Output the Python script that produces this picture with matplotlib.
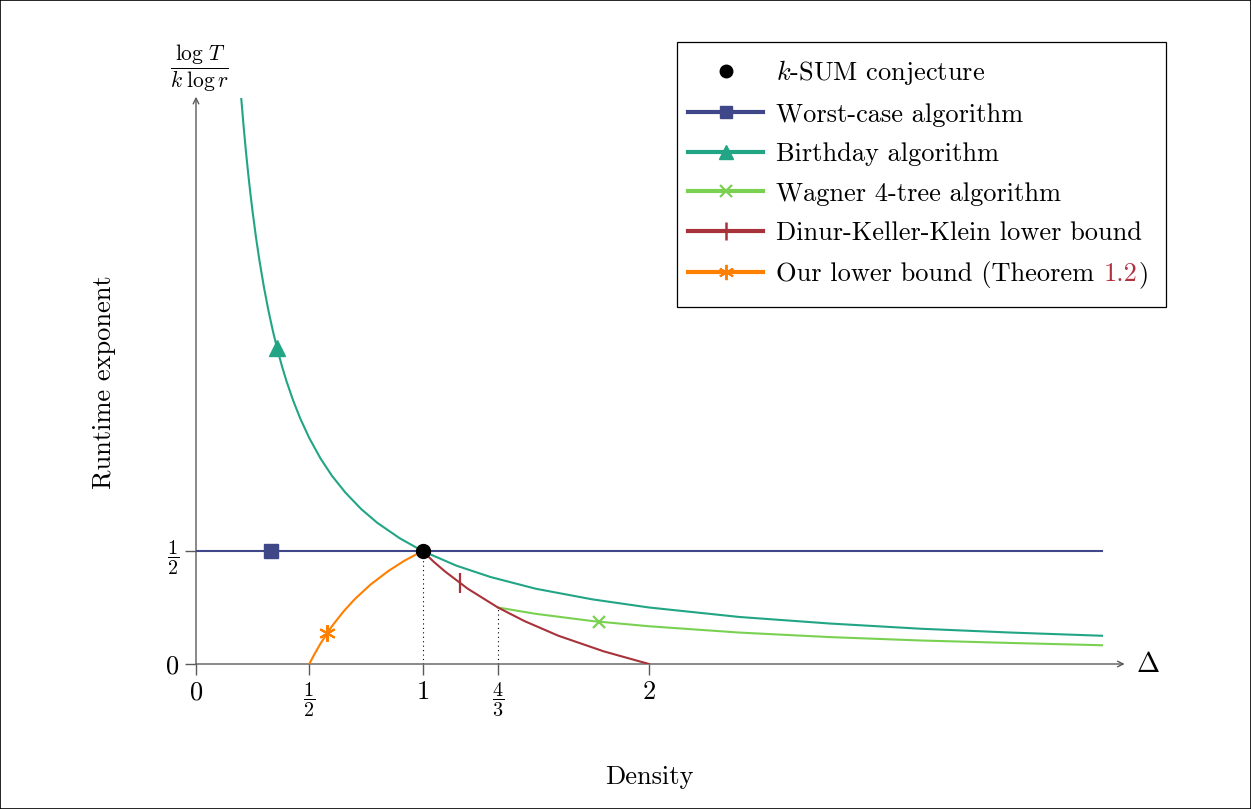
import matplotlib
matplotlib.use("Agg")
from matplotlib import pyplot as plt
from matplotlib.lines import Line2D
from matplotlib.patches import Rectangle

plt.rcParams['font.family'] = 'serif'
plt.rcParams['font.serif'] = ['cmr10']
plt.rcParams['mathtext.fontset'] = 'cm'
plt.rcParams['axes.formatter.use_mathtext'] = True

# Data (density Delta vs runtime exponent)
worst_x = [0.0, 4.0]
worst_y = [0.5, 0.5]

birthday_x = [0.2, 0.21, 0.22, 0.23, 0.24, 0.25, 0.265, 0.28, 0.3, 0.32, 0.34, 0.36, 0.38,
              0.4, 0.43, 0.46, 0.5, 0.55, 0.6, 0.66, 0.73, 0.8, 0.9, 1.0, 1.15, 1.3, 1.5,
              1.75, 2.0, 2.4, 2.8, 3.2, 3.6, 4.0]
birthday_y = [2.5, 2.381, 2.273, 2.174, 2.083, 2.0, 1.887, 1.786, 1.667, 1.563, 1.471, 1.389,
              1.316, 1.25, 1.163, 1.087, 1.0, 0.909, 0.833, 0.758, 0.685, 0.625, 0.556, 0.5,
              0.435, 0.385, 0.333, 0.286, 0.25, 0.208, 0.179, 0.156, 0.139, 0.125]

wagner_x = [1.333, 1.5, 1.75, 2.0, 2.4, 2.8, 3.2, 3.6, 4.0]
wagner_y = [0.25, 0.222, 0.19, 0.167, 0.139, 0.119, 0.104, 0.093, 0.083]

dkk_x = [1.0, 1.05, 1.1, 1.2, 1.333, 1.45, 1.6, 1.8, 2.0]
dkk_y = [0.5, 0.452, 0.409, 0.333, 0.25, 0.19, 0.125, 0.056, 0.0]

ours_x = [0.5, 0.52, 0.55, 0.6, 0.65, 0.7, 0.77, 0.85, 0.92, 1.0]
ours_y = [0.0, 0.038, 0.091, 0.167, 0.231, 0.286, 0.351, 0.412, 0.457, 0.5]

# one marker per curve
mark_pts = {'worst': (0.33, 0.5), 'birthday': (0.357, 1.40), 'wagner': (1.78, 0.187),
            'dkk': (1.166, 0.357), 'ours': (0.578, 0.135)}
conj_x, conj_y = [1.0], [0.5]

xticks = [0, 0.5, 1, 4/3, 2]
xticklabels = ['$0$', r'$\dfrac{1}{2}$', '$1$', r'$\dfrac{4}{3}$', '$2$']
yticks = [0, 0.5]
yticklabels = ['$0$', r'$\dfrac{1}{2}$']

c_worst = '#3f4788'
c_birth = '#21a585'
c_wag = '#7ad151'
c_dkk = '#a8323a'
c_ours = '#ff7f00'
c_ref = '#b03040'
c_axis = '#5a5a5a'

fs = 19
fs_frac = 14.5

W, H = 1251, 809
fig = plt.figure(figsize=(W/100, H/100), dpi=100)
x0, y0 = 196, 664          # pixel position of the origin
sx, sy = 226.5, 226.0      # pixels per unit
xmax, ymax = 4.1, 2.51
ax = fig.add_axes([x0/W, 1 - y0/H, xmax*sx/W, ymax*sy/H])
ax.set_xlim(0, xmax)
ax.set_ylim(0, ymax)
for s in ax.spines.values():
    s.set_visible(False)
ax.patch.set_visible(False)

# axis arrows
ax.annotate('', xy=(xmax, 0), xytext=(0, 0), annotation_clip=False,
            arrowprops=dict(arrowstyle='->', color=c_axis, lw=1.0, shrinkA=0, shrinkB=0))
ax.annotate('', xy=(0, ymax), xytext=(0, 0), annotation_clip=False,
            arrowprops=dict(arrowstyle='->', color=c_axis, lw=1.0, shrinkA=0, shrinkB=0))

ax.set_xticks(xticks)
ax.set_xticklabels(xticklabels)
ax.set_yticks(yticks)
ax.set_yticklabels(yticklabels)
ax.tick_params(direction='out', length=8, width=1.0, color=c_axis, labelsize=fs, pad=4)
for lbl in ax.get_xticklabels() + ax.get_yticklabels():
    if 'frac' in lbl.get_text():
        lbl.set_fontsize(fs_frac)

lw = 1.5
ax.plot(worst_x, worst_y, color=c_worst, lw=lw, zorder=3)
ax.plot(birthday_x, birthday_y, color=c_birth, lw=lw, zorder=3)
ax.plot(wagner_x, wagner_y, color=c_wag, lw=lw, zorder=3)
ax.plot(dkk_x, dkk_y, color=c_dkk, lw=lw, zorder=3)
ax.plot(ours_x, ours_y, color=c_ours, lw=lw, zorder=3)

ax.plot(*mark_pts['worst'], marker='s', ms=10, color=c_worst, zorder=4)
ax.plot(*mark_pts['birthday'], marker='^', ms=12, color=c_birth, zorder=4)
ax.plot(*mark_pts['wagner'], marker='x', ms=9, mew=1.6, color=c_wag, zorder=4)
ax.plot(*mark_pts['dkk'], marker='|', ms=14, mew=1.6, color=c_dkk, zorder=4)
ax.plot(*mark_pts['ours'], marker=(6, 2, 0), ms=12, mew=1.5, color=c_ours, zorder=4)
ax.plot(conj_x, conj_y, 'o', ms=10, color='black', zorder=5)

# dotted guides
ax.plot([1, 1], [0, 0.5], ls=(0, (1, 3)), color='black', lw=0.8, zorder=2)
ax.plot([4/3, 4/3], [0, 0.25], ls=(0, (1, 3)), color='black', lw=0.8, zorder=2)

# axis labels
fig.text(104/W, 1 - 382/H, 'Runtime exponent', rotation=90, ha='center', va='center', fontsize=fs)
fig.text(649/W, 1 - 777/H, 'Density', ha='center', va='center', fontsize=fs)
fig.text(199/W, 1 - 68/H, r'$\dfrac{\log\,T}{k\;\log r}$', ha='center', va='center', fontsize=15.5)
fig.text(1136/W, 1 - 665/H, r'$\Delta$', ha='left', va='center', fontsize=fs + 1)

# legend (frame drawn by hand so it matches the reference box)
ax.add_patch(Rectangle((677/W, 1 - 307/H), 489/W, 265/H, transform=fig.transFigure,
                       fc='white', ec='black', lw=0.9, zorder=5.5, clip_on=False))
hlw = 3.0
handles = [
    Line2D([], [], ls='none', marker='o', ms=9, color='black'),
    Line2D([], [], color=c_worst, lw=hlw, marker='s', ms=9),
    Line2D([], [], color=c_birth, lw=hlw, marker='^', ms=10),
    Line2D([], [], color=c_wag, lw=hlw, marker='x', ms=9, mew=1.6),
    Line2D([], [], color=c_dkk, lw=hlw, marker='|', ms=13, mew=1.8),
    Line2D([], [], color=c_ours, lw=hlw, marker=(6, 2, 0), ms=11, mew=1.4),
]
labels = ['$k$-SUM conjecture', 'Worst-case algorithm', 'Birthday algorithm',
          'Wagner 4-tree algorithm', 'Dinur-Keller-Klein lower bound',
          'Our lower bound (Theorem']
leg = ax.legend(handles, labels, loc='upper left', bbox_to_anchor=(688/W, 1 - 58/H),
                bbox_transform=fig.transFigure, fontsize=fs, frameon=False,
                borderaxespad=0, borderpad=0, handlelength=2.85, handletextpad=0.5,
                labelspacing=0.6, numpoints=1)
leg.set_zorder(6)

# "1.2" in link colour, then the closing bracket
last = leg.get_texts()[-1]
ref = ax.annotate('1.2', xy=(1, 0), xycoords=last, xytext=(6.5, 1.06), textcoords='offset points',
                  ha='left', va='bottom', fontsize=fs, color=c_ref, zorder=10)
ax.annotate(')', xy=(1, 0), xycoords=ref, xytext=(1.0, -1.06), textcoords='offset points',
            ha='left', va='bottom', fontsize=fs, color='black', zorder=11)

fig.patches.append(Rectangle((0, 0), 1, 1, transform=fig.transFigure, fill=False,
                             ec='black', lw=1.2))

fig.savefig('out.png', dpi=100)
